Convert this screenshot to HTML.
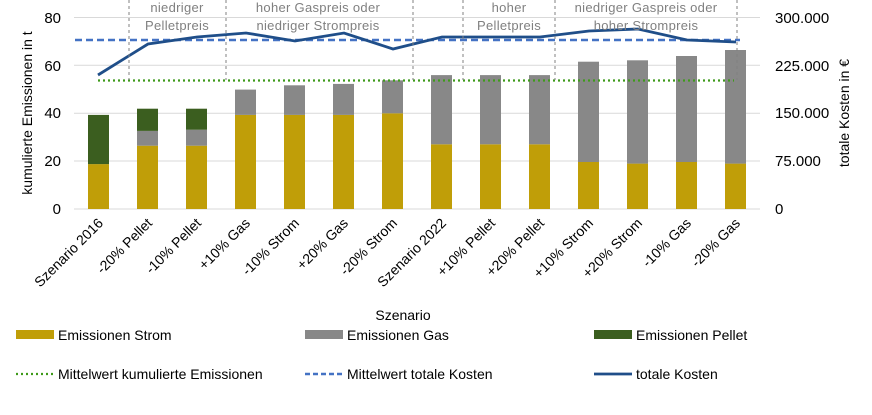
<!DOCTYPE html>
<html><head><meta charset="utf-8"><style>
html,body{margin:0;padding:0;background:#fff;}
svg{display:block;font-family:"Liberation Sans",sans-serif;}
</style></head><body>
<svg width="872" height="415" viewBox="0 0 872 415" xmlns="http://www.w3.org/2000/svg">
<g stroke="#d9d9d9" stroke-width="1">
<line x1="74" y1="17.5" x2="760" y2="17.5"/>
<line x1="74" y1="65.3" x2="760" y2="65.3"/>
<line x1="74" y1="113.2" x2="760" y2="113.2"/>
<line x1="74" y1="161" x2="760" y2="161"/>
<line x1="74" y1="209" x2="760" y2="209"/>
</g>
<g font-size="15" fill="#000" text-anchor="end">
<text x="61" y="23">80</text><text x="61" y="71">60</text><text x="61" y="118">40</text><text x="61" y="166">20</text><text x="61" y="214">0</text>
</g>
<g font-size="15" fill="#000">
<text x="775" y="23">300.000</text><text x="775" y="71">225.000</text><text x="775" y="118">150.000</text><text x="775" y="166">75.000</text><text x="775" y="214">0</text>
</g>
<text transform="translate(32,113) rotate(-90)" font-size="14" text-anchor="middle">kumulierte Emissionen in t</text>
<text transform="translate(849,113) rotate(-90)" font-size="14" text-anchor="middle">totale Kosten in €</text>
<g>
<rect x="88" y="164.1" width="21" height="44.9" fill="#c09e08"/><rect x="88" y="114.9" width="21" height="49.2" fill="#3b5e1f"/>
<rect x="137" y="145.7" width="21" height="63.3" fill="#c09e08"/><rect x="137" y="130.9" width="21" height="14.8" fill="#888"/><rect x="137" y="108.7" width="21" height="22.2" fill="#3b5e1f"/>
<rect x="186" y="145.7" width="21" height="63.3" fill="#c09e08"/><rect x="186" y="129.7" width="21" height="16" fill="#888"/><rect x="186" y="108.7" width="21" height="21" fill="#3b5e1f"/>
<rect x="235" y="114.9" width="21" height="94.1" fill="#c09e08"/><rect x="235" y="89.6" width="21" height="25.3" fill="#888"/>
<rect x="284" y="114.9" width="21" height="94.1" fill="#c09e08"/><rect x="284" y="85.3" width="21" height="29.6" fill="#888"/>
<rect x="333" y="114.9" width="21" height="94.1" fill="#c09e08"/><rect x="333" y="83.9" width="21" height="31" fill="#888"/>
<rect x="382" y="113.3" width="21" height="95.7" fill="#c09e08"/><rect x="382" y="80.3" width="21" height="33" fill="#888"/>
<rect x="431" y="144.3" width="21" height="64.7" fill="#c09e08"/><rect x="431" y="75.1" width="21" height="69.2" fill="#888"/>
<rect x="480" y="144.3" width="21" height="64.7" fill="#c09e08"/><rect x="480" y="75.1" width="21" height="69.2" fill="#888"/>
<rect x="529" y="144.3" width="21" height="64.7" fill="#c09e08"/><rect x="529" y="75.1" width="21" height="69.2" fill="#888"/>
<rect x="578" y="162" width="21" height="47" fill="#c09e08"/><rect x="578" y="61.7" width="21" height="100.3" fill="#888"/>
<rect x="627" y="163.6" width="21" height="45.4" fill="#c09e08"/><rect x="627" y="60.3" width="21" height="103.3" fill="#888"/>
<rect x="676" y="162" width="21" height="47" fill="#c09e08"/><rect x="676" y="56" width="21" height="106" fill="#888"/>
<rect x="725" y="163.6" width="21" height="45.4" fill="#c09e08"/><rect x="725" y="50" width="21" height="113.6" fill="#888"/>
</g>
<line x1="98" y1="80.5" x2="734" y2="80.5" stroke="#3e9a1a" stroke-width="2.2" stroke-dasharray="2,3"/>
<line x1="75" y1="40" x2="740" y2="40" stroke="#4472c4" stroke-width="2.5" stroke-dasharray="7,4"/>
<polyline fill="none" stroke="#1f4e89" stroke-width="2.8" points="98,75 148,44 197,37 246,33 295,41 344,33 393,49 442,37 491,37 540,37 589,31 638,29 687,40 736,42"/>
<g stroke="#808080" stroke-width="1" stroke-dasharray="3,3">
<line x1="129" y1="0" x2="129" y2="80"/><line x1="226" y1="0" x2="226" y2="80"/><line x1="413" y1="0" x2="413" y2="80"/>
<line x1="463" y1="0" x2="463" y2="80"/><line x1="555" y1="0" x2="555" y2="80"/><line x1="737" y1="0" x2="737" y2="80"/>
</g>
<g font-size="13" fill="#808080" text-anchor="middle" letter-spacing="0.3">
<text x="177" y="12">niedriger</text><text x="177" y="30">Pelletpreis</text>
<text x="318" y="12">hoher Gaspreis oder</text><text x="318" y="30">niedriger Strompreis</text>
<text x="509" y="12">hoher</text><text x="509" y="30">Pelletpreis</text>
<text x="646" y="12">niedriger Gaspreis oder</text><text x="646" y="30">hoher Strompreis</text>
</g>
<g font-size="14" text-anchor="end">
<text transform="translate(104,224) rotate(-45)">Szenario 2016</text>
<text transform="translate(153,224) rotate(-45)">-20% Pellet</text>
<text transform="translate(202,224) rotate(-45)">-10% Pellet</text>
<text transform="translate(251,224) rotate(-45)">+10% Gas</text>
<text transform="translate(300,224) rotate(-45)">-10% Strom</text>
<text transform="translate(349,224) rotate(-45)">+20% Gas</text>
<text transform="translate(398,224) rotate(-45)">-20% Strom</text>
<text transform="translate(447,224) rotate(-45)">Szenario 2022</text>
<text transform="translate(496,224) rotate(-45)">+10% Pellet</text>
<text transform="translate(545,224) rotate(-45)">+20% Pellet</text>
<text transform="translate(594,224) rotate(-45)">+10% Strom</text>
<text transform="translate(643,224) rotate(-45)">+20% Strom</text>
<text transform="translate(692,224) rotate(-45)">-10% Gas</text>
<text transform="translate(741,224) rotate(-45)">-20% Gas</text>
</g>
<text x="403" y="320" font-size="14" text-anchor="middle">Szenario</text>
<rect x="16" y="330" width="38" height="9" fill="#c09e08"/>
<text x="58" y="340" font-size="14">Emissionen Strom</text>
<rect x="305" y="330" width="38" height="9" fill="#888"/>
<text x="347" y="340" font-size="14">Emissionen Gas</text>
<rect x="594" y="330" width="38" height="9" fill="#3b5e1f"/>
<text x="636" y="340" font-size="14">Emissionen Pellet</text>
<line x1="16" y1="374" x2="54" y2="374" stroke="#3e9a1a" stroke-width="2.2" stroke-dasharray="2,3"/>
<text x="58" y="379" font-size="14">Mittelwert kumulierte Emissionen</text>
<line x1="305" y1="374" x2="343" y2="374" stroke="#4472c4" stroke-width="2.5" stroke-dasharray="5,3"/>
<text x="347" y="379" font-size="14">Mittelwert totale Kosten</text>
<line x1="594" y1="374" x2="632" y2="374" stroke="#1f4e89" stroke-width="2.8"/>
<text x="636" y="379" font-size="14">totale Kosten</text>
</svg>
</body></html>
